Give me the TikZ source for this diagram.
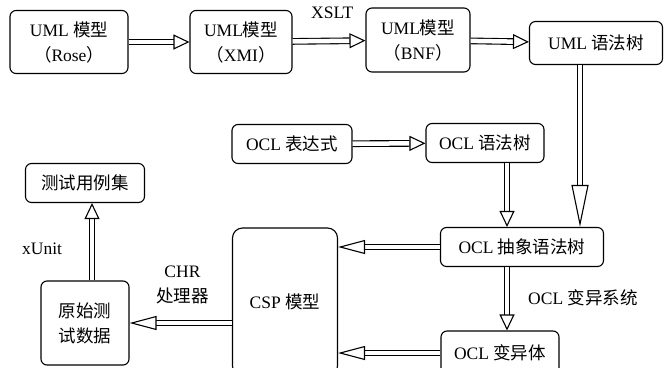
\documentclass[tikz,border=0pt]{standalone}
\usepackage{fontspec}
\setmainfont{Liberation Serif}
\newfontfamily\cjk{Noto Sans CJK SC}
\usepackage{tikz}
\usetikzlibrary{arrows.meta, calc}

\begin{document}
\begin{tikzpicture}[x=1pt, y=-1pt, every text node part/.style={align=center},
  font=\fontsize{17.5}{25}\selectfont]

\tikzstyle{box}=[draw, line width=1.1pt, rounded corners=6pt, inner sep=0pt]
\tikzstyle{arr}=[draw, double, double distance=4.5pt, line width=1.1pt,
  -{Triangle[open, fill=white, length=16pt, width=15pt, line width=1.1pt]}]
\tikzstyle{longarr}=[arr,
  -{Triangle[open, fill=white, length=27pt, width=14pt, line width=1.1pt]}]
\tikzstyle{lbl}=[inner sep=0pt, anchor=west]

\useasboundingbox (0, 0) rectangle (668, 367);

% columns of the vertical connectors
\coordinate (c1) at (580, 0);
\coordinate (c2) at (507, 0);
\coordinate (c3) at (92, 0);

\node (rose) [box, minimum width=118, minimum height=63] at (69, 42)
{UML {\cjk 模型}\\{\cjk （}Rose{\cjk ）}};
\node (xmi) [box, minimum width=102, minimum height=63] at (241, 42)
{UML{\cjk 模型}\\{\cjk （}XMI{\cjk ）}};
\node (bnf) [box, minimum width=104, minimum height=64] at (418, 40)
{UML{\cjk 模型}\\{\cjk （}BNF{\cjk ）}};
\node (ust) [box, minimum width=133, minimum height=43] at (596, 43)
{UML {\cjk 语法树}};

\node (oexp) [box, minimum width=120, minimum height=39] at (292, 144)
{OCL {\cjk 表达式}};
\node (ost) [box, minimum width=118, minimum height=39] at (485, 143)
{OCL {\cjk 语法树}};
\node (oast) [box, minimum width=163, minimum height=39] at (522, 247)
{OCL {\cjk 抽象语法树}};
\node (omut) [box, minimum width=118, minimum height=44] at (500, 353)
{OCL {\cjk 变异体}};

\node (csp) [box, minimum width=105, minimum height=148, rounded corners=10pt]
at (285, 302) {CSP {\cjk 模型}};
\node (raw) [box, minimum width=88, minimum height=84] at (85, 323)
{{\cjk 原始测}\\{\cjk 试数据}};
\node (tcs) [box, minimum width=119, minimum height=39] at (85, 183)
{{\cjk 测试用例集}};

\path [arr] (rose) -- (xmi);
\path [arr] (xmi) -- (bnf);
\path [arr] (bnf) -- (ust);
\path [arr, -{Triangle[open, fill=white, length=42pt, width=17pt, line width=1.1pt]}]
  (ust.south -| c1) -- (oast.north -| c1);

\path [arr] (oexp) -- (ost);
\path [arr] (ost.south -| c2) -- (oast.north -| c2);
\path [arr] (oast.south -| c2) -- (omut.north -| c2);
\path [longarr] (oast.west) -- (csp.east |- oast.west);
\path [longarr] (omut.west) -- (csp.east |- omut.west);

\path [longarr] (csp.west |- raw.east) -- (raw.east);
\path [arr] (raw.north -| c3) -- (tcs.south -| c3);

\node (xslt) [lbl] at (311, 13) {XSLT};
\node (ocmut) [lbl] at (528, 298) {OCL {\cjk 变异系统}};
\node (chr) [lbl, align=left] at (156, 285) {CHR\\{\cjk 处理器}};
\node (xunit) [lbl] at (22, 249) {xUnit};

\end{tikzpicture}
\end{document}
